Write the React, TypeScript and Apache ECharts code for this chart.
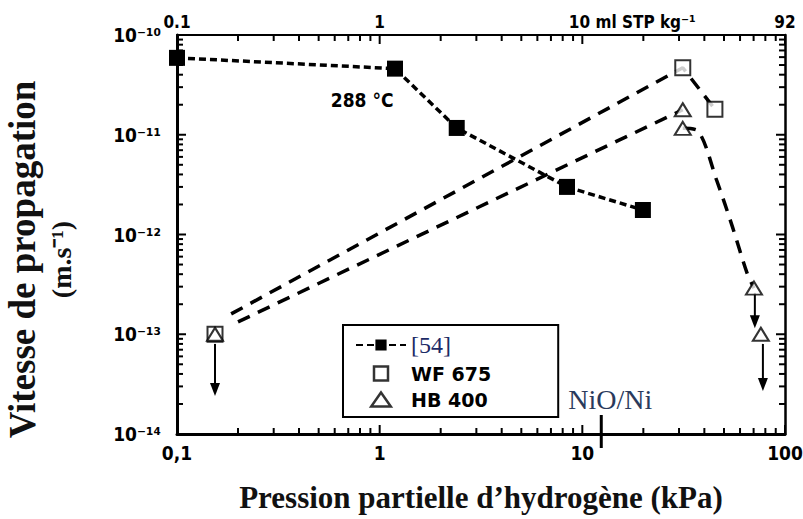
import React, { useEffect, useRef } from 'react';
import * as echarts from 'echarts';

// axis ticks / labels
const xTicks = [0.1, 1, 10, 100];
const yTicks = [1e-14, 1e-13, 1e-12, 1e-11, 1e-10];
const bottomTickLabels = ['0,1', '1', '10', '100'];
const topTickLabels = ['0.1', '1', '10 ml STP kg⁻¹', '92'];
const yTickLabels = ['10⁻¹⁴', '10⁻¹³', '10⁻¹²', '10⁻¹¹', '10⁻¹⁰'];
const minorMult = [2, 3, 4, 5, 6, 7, 8, 9];
const xDecades = [0.1, 1, 10];
const yDecades = [1e-14, 1e-13, 1e-12, 1e-11];

// [54] at 288 °C
const ref54X = [0.1, 1.19, 2.4, 8.4, 19.9];
const ref54Y = [5.9e-11, 4.6e-11, 1.17e-11, 3.0e-12, 1.76e-12];

// WF 675 (open squares)
const wfX = [0.154, 31.3, 45.1];
const wfY = [1e-13, 4.7e-11, 1.8e-11];

// HB 400 (open triangles)
const hbX = [0.154, 31.3, 31.3, 70.3, 76.0];
const hbY = [1e-13, 1.78e-11, 1.16e-11, 2.9e-13, 1e-13];

// dashed trend curves
const wfFitX = [0.185, 31.3, 45.1];
const wfFitY = [1.6e-13, 4.7e-11, 1.8e-11];
const hbRiseX = [0.2, 31.3];
const hbRiseY = [1.33e-13, 1.78e-11];
const hbFallX = [31.3, 37, 46, 55, 65, 70.3];
const hbFallY = [1.16e-11, 1.1e-11, 3.5e-12, 1.2e-12, 4.1e-13, 2.9e-13];

// upper-limit arrows: x, from y, to y
const arrowX = [0.154, 71.0, 77.8];
const arrowFrom = [8e-14, 2.6e-13, 8e-14];
const arrowTo = [2.4e-14, 1.15e-13, 2.7e-14];

// annotations
const tempLabel = '288 °C';
const tempPos = [0.82, 2.23e-11];
const nioLabel = 'NiO/Ni';
const nioX = 12.4;

const X_MIN = 0.1, X_MAX = 100, Y_MIN = 1e-14, Y_MAX = 1e-10;

export default function App() {
  const ref = useRef<HTMLDivElement>(null);
  useEffect(() => {
    const chart = echarts.init(ref.current!, null, { renderer: 'svg' });
    const sansBold = '"Liberation Sans Narrow", "DejaVu Sans Condensed", "Liberation Sans", sans-serif';
    const legendSans = '"DejaVu Sans", "Liberation Sans", sans-serif';
    const serif = '"Liberation Serif", "Times New Roman", serif';
    const zip = (xs: number[], ys: number[]) => xs.map((x, i) => [x, ys[i]]);
    const dec = (v: number) => Math.round(Math.log10(v));
    const xTickMarks: number[][] = [
      ...xTicks.map((x) => [x, 1]),
      ...xDecades.flatMap((d) => minorMult.map((m) => [m * d, 0])),
    ];
    const yTickMarks: number[][] = [
      ...yTicks.map((y) => [y, 1]),
      ...yDecades.flatMap((d) => minorMult.map((m) => [m * d, 0])),
    ];
    const tickLen = (maj: number) => (maj ? 9 : 6);
    // tick segments: [x, y, dx(px), dy(px)]
    const tickSegs: number[][] = [
      ...xTickMarks.map(([x, m]) => [x, Y_MIN, 0, -tickLen(m)]),
      ...xTickMarks.map(([x, m]) => [x, Y_MAX, 0, tickLen(m)]),
      ...yTickMarks.map(([y, m]) => [X_MIN, y, tickLen(m), 0]),
      ...yTickMarks.map(([y, m]) => [X_MAX, y, -tickLen(m), 0]),
    ];

    const option: any = {
      animation: false,
      backgroundColor: '#fff',
      grid: { left: 177, top: 35, width: 608, height: 399, containLabel: false, outerBoundsMode: 'none' },
      xAxis: [
        {
          type: 'log', logBase: 10, min: X_MIN, max: X_MAX, position: 'bottom',
          axisLine: { show: true, lineStyle: { color: '#000', width: 3 } },
          axisTick: { show: false },
          splitLine: { show: false },
          axisLabel: {
            margin: 9, color: '#000', fontFamily: sansBold, fontWeight: 'bold', fontSize: 19,
            formatter: (v: number) => bottomTickLabels[dec(v) + 1] ?? '',
          },
          name: 'Pression partielle d’hydrogène (kPa)',
          nameLocation: 'middle', nameGap: 48,
          nameTextStyle: { fontFamily: serif, fontWeight: 'bold', fontSize: 31, color: '#111' },
        },
        {
          type: 'log', logBase: 10, min: X_MIN, max: X_MAX, position: 'top',
          axisLine: { show: true, lineStyle: { color: '#000', width: 2 } },
          axisTick: { show: false },
          splitLine: { show: false },
          axisLabel: {
            margin: 5,
            formatter: (v: number) => {
              const i = dec(v) + 1;
              if (i === 2) return '{p|}{t|' + topTickLabels[i] + '}';
              return '{t|' + (topTickLabels[i] ?? '') + '}';
            },
            rich: {
              t: { fontFamily: sansBold, fontWeight: 'bold', fontSize: 17, color: '#000' },
              p: { width: 100 },
            },
          },
        },
      ],
      yAxis: [
        {
          type: 'log', logBase: 10, min: Y_MIN, max: Y_MAX, position: 'left',
          axisLine: { show: true, lineStyle: { color: '#000', width: 3 } },
          axisTick: { show: false },
          splitLine: { show: false },
          axisLabel: {
            margin: 16, color: '#000', fontFamily: sansBold, fontWeight: 'bold', fontSize: 19,
            formatter: (v: number) => yTickLabels[dec(v) + 14] ?? '',
          },
          name: '{a|Vitesse de propagation}\n{b|(m.s⁻¹)}',
          nameLocation: 'middle', nameGap: 97, nameRotate: 90,
          nameTextStyle: {
            padding: [0, 50, 0, 0],
            rich: {
              a: { fontFamily: serif, fontWeight: 'bold', fontSize: 37, color: '#111', lineHeight: 40, align: 'center' },
              b: { fontFamily: serif, fontWeight: 'bold', fontSize: 28, color: '#111', lineHeight: 38, align: 'center' },
            },
          },
        },
        {
          type: 'log', logBase: 10, min: Y_MIN, max: Y_MAX, position: 'right',
          axisLine: { show: true, lineStyle: { color: '#000', width: 2.5 } },
          axisTick: { show: false },
          splitLine: { show: false },
          axisLabel: { show: false },
        },
      ],
      legend: {
        orient: 'vertical', left: 343, top: 325,
        padding: [8, 67, 8, 12], itemGap: 7, itemWidth: 50, itemHeight: 14,
        borderColor: '#000', borderWidth: 2, backgroundColor: '#fff',
        data: [
          { name: '[54]', textStyle: { fontFamily: serif, fontSize: 24, color: '#1c2a66' } },
          {
            name: 'WF 675', icon: 'path://M0 0H10V10H0Z',
            itemStyle: { color: '#fff', borderColor: '#000', borderWidth: 2.5 },
            textStyle: { fontFamily: legendSans, fontWeight: 'bold', fontSize: 19, color: '#000' },
          },
          {
            name: 'HB 400', icon: 'path://M7 0L14 10H0Z',
            itemStyle: { color: '#fff', borderColor: '#000', borderWidth: 2.5 },
            textStyle: { fontFamily: legendSans, fontWeight: 'bold', fontSize: 19, color: '#000' },
          },
        ],
      },
      series: [
        {
          name: 'wfFit', type: 'line', data: zip(wfFitX, wfFitY), showSymbol: false, z: 2,
          lineStyle: { color: '#000', width: 3.5, type: [13, 9] },
        },
        {
          name: 'hbRise', type: 'line', data: zip(hbRiseX, hbRiseY), showSymbol: false, z: 2,
          lineStyle: { color: '#000', width: 3.5, type: [13, 9] },
        },
        {
          name: 'hbFall', type: 'line', data: zip(hbFallX, hbFallY), showSymbol: false, smooth: 0.3, z: 2,
          lineStyle: { color: '#000', width: 3.5, type: [13, 9] },
        },
        {
          name: 'arrows', type: 'custom', z: 3, silent: true,
          data: arrowX.map((x, i) => [x, arrowFrom[i], arrowTo[i]]),
          encode: { x: 0, y: [1, 2] },
          renderItem: (params: any, api: any) => {
            const a = api.coord([api.value(0), api.value(1)]);
            const b = api.coord([api.value(0), api.value(2)]);
            return {
              type: 'group',
              children: [
                { type: 'line', shape: { x1: a[0], y1: a[1], x2: b[0], y2: b[1] - 10 }, style: { stroke: '#000', lineWidth: 2 } },
                { type: 'polygon', shape: { points: [[b[0] - 5, b[1] - 13], [b[0] + 5, b[1] - 13], [b[0], b[1]]] }, style: { fill: '#000' } },
              ],
            };
          },
        },
        {
          name: 'axisTicks', type: 'custom', z: 3, silent: true,
          data: tickSegs,
          encode: { x: 0, y: 1 },
          renderItem: (params: any, api: any) => {
            const a = api.coord([api.value(0), api.value(1)]);
            const dx = api.value(2);
            const dy = api.value(3);
            return {
              type: 'line',
              shape: { x1: a[0], y1: a[1], x2: a[0] + dx, y2: a[1] + dy },
              style: { stroke: '#000', lineWidth: 2 },
            };
          },
        },
        {
          name: '[54]', type: 'line', data: zip(ref54X, ref54Y), z: 4,
          symbol: 'rect', symbolSize: 16,
          itemStyle: { color: '#000' },
          lineStyle: { color: '#000', width: 3.5, type: [7, 4] },
        },
        {
          name: 'WF 675', type: 'scatter', data: zip(wfX, wfY), z: 5,
          symbol: 'emptyRect', symbolSize: 15,
          itemStyle: { color: '#000', borderColor: '#000', borderWidth: 2.5 },
        },
        {
          name: 'HB 400', type: 'scatter', data: zip(hbX, hbY), z: 6,
          symbol: 'emptyTriangle', symbolSize: [16, 13],
          itemStyle: { color: '#000', borderColor: '#000', borderWidth: 2.5 },
        },
        {
          name: 'annoTemp', type: 'custom', silent: true, z: 7,
          encode: { x: 0, y: 1 },
          data: [tempPos],
          renderItem: (params: any, api: any) => {
            const p = api.coord([api.value(0), api.value(1)]);
            return {
              type: 'text',
              style: { text: tempLabel, x: p[0], y: p[1], align: 'center', verticalAlign: 'middle', fill: '#000', font: 'bold 19px ' + sansBold },
            };
          },
        },
        {
          name: 'annoNiO', type: 'custom', silent: true, z: 7, clip: false,
          encode: { x: 0, y: 1 },
          data: [[nioX, Y_MIN]],
          renderItem: (params: any, api: any) => {
            const p = api.coord([api.value(0), Y_MIN]);
            return {
              type: 'group',
              children: [
                { type: 'line', shape: { x1: p[0], y1: p[1] - 19, x2: p[0], y2: p[1] + 14 }, style: { stroke: '#000', lineWidth: 3 } },
                { type: 'text', style: { text: nioLabel, x: p[0] + 9, y: p[1] - 35, align: 'center', verticalAlign: 'middle', fill: '#2a3a5c', font: '28px ' + serif } },
              ],
            };
          },
        },
      ],
    };
    chart.setOption(option);
    return () => chart.dispose();
  }, []);
  return <div ref={ref} style={{ position: 'fixed', left: 0, top: 0, width: 803, height: 519 }} />;
}
